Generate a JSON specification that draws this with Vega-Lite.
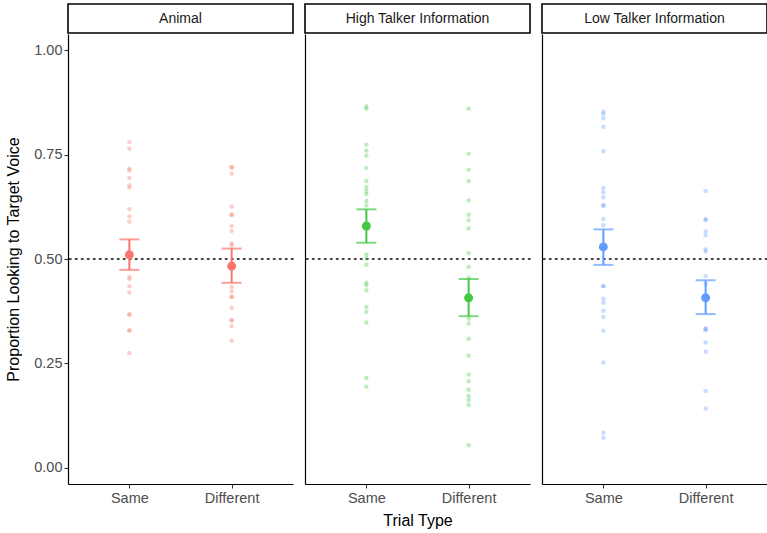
{
  "$schema": "https://vega.github.io/schema/vega-lite/v6.json",
  "padding": {"left": 5, "top": 3, "right": 5, "bottom": 5},
  "background": "white",
  "config": {
    "font": "Liberation Sans",
    "view": {"stroke": null},
    "axis": {"grid": false, "domainColor": "black", "domainWidth": 1.2, "tickColor": "#333333", "tickWidth": 1.1, "tickSize": 4, "labelColor": "#4d4d4d", "labelFontSize": 14.5, "titleFontSize": 16, "titleFontWeight": "normal", "titleColor": "black", "labelFont": "Liberation Sans", "titleFont": "Liberation Sans"}
  },
  "datasets": {
    "strips": [{"p": "Animal"}, {"p": "High Talker Information"}, {"p": "Low Talker Information"}],
    "ref": [{"r": 0.5}],
    "raw": [
      {"p": "Animal", "t": "Same", "v": 0.780}, {"p": "Animal", "t": "Same", "v": 0.764}, {"p": "Animal", "t": "Same", "v": 0.716}, {"p": "Animal", "t": "Same", "v": 0.712}, {"p": "Animal", "t": "Same", "v": 0.694}, {"p": "Animal", "t": "Same", "v": 0.676}, {"p": "Animal", "t": "Same", "v": 0.671}, {"p": "Animal", "t": "Same", "v": 0.619}, {"p": "Animal", "t": "Same", "v": 0.602}, {"p": "Animal", "t": "Same", "v": 0.589}, {"p": "Animal", "t": "Same", "v": 0.457}, {"p": "Animal", "t": "Same", "v": 0.452}, {"p": "Animal", "t": "Same", "v": 0.435}, {"p": "Animal", "t": "Same", "v": 0.419}, {"p": "Animal", "t": "Same", "v": 0.367}, {"p": "Animal", "t": "Same", "v": 0.367}, {"p": "Animal", "t": "Same", "v": 0.329}, {"p": "Animal", "t": "Same", "v": 0.329}, {"p": "Animal", "t": "Same", "v": 0.275},
      {"p": "Animal", "t": "Different", "v": 0.720}, {"p": "Animal", "t": "Different", "v": 0.720}, {"p": "Animal", "t": "Different", "v": 0.704}, {"p": "Animal", "t": "Different", "v": 0.626}, {"p": "Animal", "t": "Different", "v": 0.606}, {"p": "Animal", "t": "Different", "v": 0.606}, {"p": "Animal", "t": "Different", "v": 0.579}, {"p": "Animal", "t": "Different", "v": 0.567}, {"p": "Animal", "t": "Different", "v": 0.537}, {"p": "Animal", "t": "Different", "v": 0.533}, {"p": "Animal", "t": "Different", "v": 0.433}, {"p": "Animal", "t": "Different", "v": 0.423}, {"p": "Animal", "t": "Different", "v": 0.409}, {"p": "Animal", "t": "Different", "v": 0.409}, {"p": "Animal", "t": "Different", "v": 0.383}, {"p": "Animal", "t": "Different", "v": 0.353}, {"p": "Animal", "t": "Different", "v": 0.353}, {"p": "Animal", "t": "Different", "v": 0.339}, {"p": "Animal", "t": "Different", "v": 0.304},
      {"p": "High Talker Information", "t": "Same", "v": 0.866}, {"p": "High Talker Information", "t": "Same", "v": 0.860}, {"p": "High Talker Information", "t": "Same", "v": 0.774}, {"p": "High Talker Information", "t": "Same", "v": 0.760}, {"p": "High Talker Information", "t": "Same", "v": 0.748}, {"p": "High Talker Information", "t": "Same", "v": 0.718}, {"p": "High Talker Information", "t": "Same", "v": 0.687}, {"p": "High Talker Information", "t": "Same", "v": 0.672}, {"p": "High Talker Information", "t": "Same", "v": 0.663}, {"p": "High Talker Information", "t": "Same", "v": 0.656}, {"p": "High Talker Information", "t": "Same", "v": 0.639}, {"p": "High Talker Information", "t": "Same", "v": 0.628}, {"p": "High Talker Information", "t": "Same", "v": 0.510}, {"p": "High Talker Information", "t": "Same", "v": 0.501}, {"p": "High Talker Information", "t": "Same", "v": 0.486}, {"p": "High Talker Information", "t": "Same", "v": 0.443}, {"p": "High Talker Information", "t": "Same", "v": 0.437}, {"p": "High Talker Information", "t": "Same", "v": 0.425}, {"p": "High Talker Information", "t": "Same", "v": 0.385}, {"p": "High Talker Information", "t": "Same", "v": 0.373}, {"p": "High Talker Information", "t": "Same", "v": 0.348}, {"p": "High Talker Information", "t": "Same", "v": 0.215}, {"p": "High Talker Information", "t": "Same", "v": 0.194},
      {"p": "High Talker Information", "t": "Different", "v": 0.860}, {"p": "High Talker Information", "t": "Different", "v": 0.752}, {"p": "High Talker Information", "t": "Different", "v": 0.714}, {"p": "High Talker Information", "t": "Different", "v": 0.687}, {"p": "High Talker Information", "t": "Different", "v": 0.640}, {"p": "High Talker Information", "t": "Different", "v": 0.606}, {"p": "High Talker Information", "t": "Different", "v": 0.593}, {"p": "High Talker Information", "t": "Different", "v": 0.573}, {"p": "High Talker Information", "t": "Different", "v": 0.514}, {"p": "High Talker Information", "t": "Different", "v": 0.481}, {"p": "High Talker Information", "t": "Different", "v": 0.455}, {"p": "High Talker Information", "t": "Different", "v": 0.357}, {"p": "High Talker Information", "t": "Different", "v": 0.345}, {"p": "High Talker Information", "t": "Different", "v": 0.309}, {"p": "High Talker Information", "t": "Different", "v": 0.268}, {"p": "High Talker Information", "t": "Different", "v": 0.223}, {"p": "High Talker Information", "t": "Different", "v": 0.207}, {"p": "High Talker Information", "t": "Different", "v": 0.187}, {"p": "High Talker Information", "t": "Different", "v": 0.172}, {"p": "High Talker Information", "t": "Different", "v": 0.162}, {"p": "High Talker Information", "t": "Different", "v": 0.150}, {"p": "High Talker Information", "t": "Different", "v": 0.054},
      {"p": "Low Talker Information", "t": "Same", "v": 0.853}, {"p": "Low Talker Information", "t": "Same", "v": 0.848}, {"p": "Low Talker Information", "t": "Same", "v": 0.837}, {"p": "Low Talker Information", "t": "Same", "v": 0.816}, {"p": "Low Talker Information", "t": "Same", "v": 0.758}, {"p": "Low Talker Information", "t": "Same", "v": 0.670}, {"p": "Low Talker Information", "t": "Same", "v": 0.660}, {"p": "Low Talker Information", "t": "Same", "v": 0.648}, {"p": "Low Talker Information", "t": "Same", "v": 0.628}, {"p": "Low Talker Information", "t": "Same", "v": 0.628}, {"p": "Low Talker Information", "t": "Same", "v": 0.596}, {"p": "Low Talker Information", "t": "Same", "v": 0.581}, {"p": "Low Talker Information", "t": "Same", "v": 0.435}, {"p": "Low Talker Information", "t": "Same", "v": 0.435}, {"p": "Low Talker Information", "t": "Same", "v": 0.405}, {"p": "Low Talker Information", "t": "Same", "v": 0.395}, {"p": "Low Talker Information", "t": "Same", "v": 0.376}, {"p": "Low Talker Information", "t": "Same", "v": 0.361}, {"p": "Low Talker Information", "t": "Same", "v": 0.328}, {"p": "Low Talker Information", "t": "Same", "v": 0.252}, {"p": "Low Talker Information", "t": "Same", "v": 0.084}, {"p": "Low Talker Information", "t": "Same", "v": 0.072},
      {"p": "Low Talker Information", "t": "Different", "v": 0.663}, {"p": "Low Talker Information", "t": "Different", "v": 0.596}, {"p": "Low Talker Information", "t": "Different", "v": 0.593}, {"p": "Low Talker Information", "t": "Different", "v": 0.566}, {"p": "Low Talker Information", "t": "Different", "v": 0.557}, {"p": "Low Talker Information", "t": "Different", "v": 0.523}, {"p": "Low Talker Information", "t": "Different", "v": 0.518}, {"p": "Low Talker Information", "t": "Different", "v": 0.459}, {"p": "Low Talker Information", "t": "Different", "v": 0.441}, {"p": "Low Talker Information", "t": "Different", "v": 0.333}, {"p": "Low Talker Information", "t": "Different", "v": 0.333}, {"p": "Low Talker Information", "t": "Different", "v": 0.329}, {"p": "Low Talker Information", "t": "Different", "v": 0.300}, {"p": "Low Talker Information", "t": "Different", "v": 0.278}, {"p": "Low Talker Information", "t": "Different", "v": 0.184}, {"p": "Low Talker Information", "t": "Different", "v": 0.142}
    ],
    "summary": [
      {"p": "Animal", "t": "Same", "m": 0.510, "lo": 0.474, "hi": 0.547},
      {"p": "Animal", "t": "Different", "m": 0.483, "lo": 0.443, "hi": 0.525},
      {"p": "High Talker Information", "t": "Same", "m": 0.579, "lo": 0.539, "hi": 0.619},
      {"p": "High Talker Information", "t": "Different", "m": 0.407, "lo": 0.363, "hi": 0.452},
      {"p": "Low Talker Information", "t": "Same", "m": 0.529, "lo": 0.486, "hi": 0.571},
      {"p": "Low Talker Information", "t": "Different", "m": 0.407, "lo": 0.368, "hi": 0.449}
    ]
  },
  "columns": 3,
  "spacing": {"row": 0, "column": 10},
  "concat": [
    {"width": 225, "height": 29, "view": {"stroke": "black", "strokeWidth": 1.6},
     "data": {"name": "strips"}, "transform": [{"filter": "datum.p === 'Animal'"}],
     "mark": {"type": "text", "fontSize": 14, "color": "#1a1a1a", "font": "Liberation Sans"},
     "encoding": {"text": {"field": "p"}}},
    {"width": 225, "height": 29, "view": {"stroke": "black", "strokeWidth": 1.6},
     "data": {"name": "strips"}, "transform": [{"filter": "datum.p === 'High Talker Information'"}],
     "mark": {"type": "text", "fontSize": 14, "color": "#1a1a1a", "font": "Liberation Sans"},
     "encoding": {"text": {"field": "p"}}},
    {"width": 225, "height": 29, "view": {"stroke": "black", "strokeWidth": 1.6},
     "data": {"name": "strips"}, "transform": [{"filter": "datum.p === 'Low Talker Information'"}],
     "mark": {"type": "text", "fontSize": 14, "color": "#1a1a1a", "font": "Liberation Sans"},
     "encoding": {"text": {"field": "p"}}},
    {"width": 225, "height": 450,
     "layer": [
       {"data": {"name": "ref"},
        "mark": {"type": "rule", "color": "black", "strokeDash": [1.5, 4.5], "strokeWidth": 1.6, "strokeCap": "round"},
        "encoding": {"y": {"field": "r", "type": "quantitative", "scale": {"domain": [-0.039, 1.039], "nice": false, "zero": false}, "axis": {"title": "Proportion Looking to Target Voice", "values": [0, 0.25, 0.5, 0.75, 1], "format": ".2f", "titlePadding": 12}}}},
       {"data": {"name": "raw"}, "transform": [{"filter": "datum.p === 'Animal'"}],
        "mark": {"type": "circle", "size": 20, "opacity": 0.35, "color": "#F8766D"},
        "encoding": {"x": {"field": "t", "type": "nominal", "sort": ["Same", "Different"], "scale": {"type": "point", "padding": 0.6}, "axis": {"title": null, "labelAngle": 0, "labelPadding": 3}}, "y": {"field": "v", "type": "quantitative"}}},
       {"data": {"name": "summary"}, "transform": [{"filter": "datum.p === 'Animal'"}],
        "mark": {"type": "rule", "color": "#F8766D", "strokeWidth": 2},
        "encoding": {"x": {"field": "t", "type": "nominal", "sort": ["Same", "Different"]}, "y": {"field": "lo", "type": "quantitative"}, "y2": {"field": "hi"}}},
       {"data": {"name": "summary"}, "transform": [{"filter": "datum.p === 'Animal'"}],
        "mark": {"type": "tick", "color": "#F8766D", "thickness": 2, "size": 20, "orient": "horizontal"},
        "encoding": {"x": {"field": "t", "type": "nominal", "sort": ["Same", "Different"]}, "y": {"field": "lo", "type": "quantitative"}}},
       {"data": {"name": "summary"}, "transform": [{"filter": "datum.p === 'Animal'"}],
        "mark": {"type": "tick", "color": "#F8766D", "thickness": 2, "size": 20, "orient": "horizontal"},
        "encoding": {"x": {"field": "t", "type": "nominal", "sort": ["Same", "Different"]}, "y": {"field": "hi", "type": "quantitative"}}},
       {"data": {"name": "summary"}, "transform": [{"filter": "datum.p === 'Animal'"}],
        "mark": {"type": "circle", "size": 80, "opacity": 1, "color": "#F8766D"},
        "encoding": {"x": {"field": "t", "type": "nominal", "sort": ["Same", "Different"]}, "y": {"field": "m", "type": "quantitative"}}}
     ]},
    {"width": 225, "height": 450,
     "layer": [
       {"data": {"name": "ref"},
        "mark": {"type": "rule", "color": "black", "strokeDash": [1.5, 4.5], "strokeWidth": 1.6, "strokeCap": "round"},
        "encoding": {"y": {"field": "r", "type": "quantitative", "scale": {"domain": [-0.039, 1.039], "nice": false, "zero": false}, "axis": {"title": null, "labels": false, "ticks": false}}}},
       {"data": {"name": "raw"}, "transform": [{"filter": "datum.p === 'High Talker Information'"}],
        "mark": {"type": "circle", "size": 20, "opacity": 0.35, "color": "#44C744"},
        "encoding": {"x": {"field": "t", "type": "nominal", "sort": ["Same", "Different"], "scale": {"type": "point", "padding": 0.6}, "axis": {"title": "Trial Type", "labelAngle": 0, "labelPadding": 3, "titlePadding": 8}}, "y": {"field": "v", "type": "quantitative"}}},
       {"data": {"name": "summary"}, "transform": [{"filter": "datum.p === 'High Talker Information'"}],
        "mark": {"type": "rule", "color": "#44C744", "strokeWidth": 2},
        "encoding": {"x": {"field": "t", "type": "nominal", "sort": ["Same", "Different"]}, "y": {"field": "lo", "type": "quantitative"}, "y2": {"field": "hi"}}},
       {"data": {"name": "summary"}, "transform": [{"filter": "datum.p === 'High Talker Information'"}],
        "mark": {"type": "tick", "color": "#44C744", "thickness": 2, "size": 20, "orient": "horizontal"},
        "encoding": {"x": {"field": "t", "type": "nominal", "sort": ["Same", "Different"]}, "y": {"field": "lo", "type": "quantitative"}}},
       {"data": {"name": "summary"}, "transform": [{"filter": "datum.p === 'High Talker Information'"}],
        "mark": {"type": "tick", "color": "#44C744", "thickness": 2, "size": 20, "orient": "horizontal"},
        "encoding": {"x": {"field": "t", "type": "nominal", "sort": ["Same", "Different"]}, "y": {"field": "hi", "type": "quantitative"}}},
       {"data": {"name": "summary"}, "transform": [{"filter": "datum.p === 'High Talker Information'"}],
        "mark": {"type": "circle", "size": 80, "opacity": 1, "color": "#44C744"},
        "encoding": {"x": {"field": "t", "type": "nominal", "sort": ["Same", "Different"]}, "y": {"field": "m", "type": "quantitative"}}}
     ]},
    {"width": 225, "height": 450,
     "layer": [
       {"data": {"name": "ref"},
        "mark": {"type": "rule", "color": "black", "strokeDash": [1.5, 4.5], "strokeWidth": 1.6, "strokeCap": "round"},
        "encoding": {"y": {"field": "r", "type": "quantitative", "scale": {"domain": [-0.039, 1.039], "nice": false, "zero": false}, "axis": {"title": null, "labels": false, "ticks": false}}}},
       {"data": {"name": "raw"}, "transform": [{"filter": "datum.p === 'Low Talker Information'"}],
        "mark": {"type": "circle", "size": 20, "opacity": 0.35, "color": "#619CFF"},
        "encoding": {"x": {"field": "t", "type": "nominal", "sort": ["Same", "Different"], "scale": {"type": "point", "padding": 0.6}, "axis": {"title": null, "labelAngle": 0, "labelPadding": 3}}, "y": {"field": "v", "type": "quantitative"}}},
       {"data": {"name": "summary"}, "transform": [{"filter": "datum.p === 'Low Talker Information'"}],
        "mark": {"type": "rule", "color": "#619CFF", "strokeWidth": 2},
        "encoding": {"x": {"field": "t", "type": "nominal", "sort": ["Same", "Different"]}, "y": {"field": "lo", "type": "quantitative"}, "y2": {"field": "hi"}}},
       {"data": {"name": "summary"}, "transform": [{"filter": "datum.p === 'Low Talker Information'"}],
        "mark": {"type": "tick", "color": "#619CFF", "thickness": 2, "size": 20, "orient": "horizontal"},
        "encoding": {"x": {"field": "t", "type": "nominal", "sort": ["Same", "Different"]}, "y": {"field": "lo", "type": "quantitative"}}},
       {"data": {"name": "summary"}, "transform": [{"filter": "datum.p === 'Low Talker Information'"}],
        "mark": {"type": "tick", "color": "#619CFF", "thickness": 2, "size": 20, "orient": "horizontal"},
        "encoding": {"x": {"field": "t", "type": "nominal", "sort": ["Same", "Different"]}, "y": {"field": "hi", "type": "quantitative"}}},
       {"data": {"name": "summary"}, "transform": [{"filter": "datum.p === 'Low Talker Information'"}],
        "mark": {"type": "circle", "size": 80, "opacity": 1, "color": "#619CFF"},
        "encoding": {"x": {"field": "t", "type": "nominal", "sort": ["Same", "Different"]}, "y": {"field": "m", "type": "quantitative"}}}
     ]}
  ]
}
